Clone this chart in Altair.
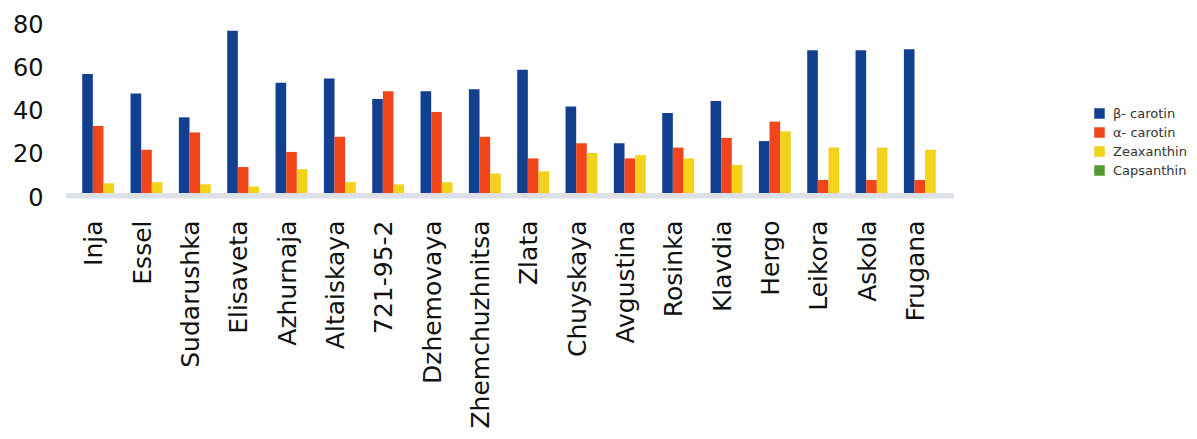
import altair as alt
import pandas as pd

# Carotenoid content by carrot variety
varieties = [
    "Inja", "Essel", "Sudarushka", "Elisaveta", "Azhurnaja", "Altaiskaya",
    "721-95-2", "Dzhemovaya", "Zhemchuzhnitsa", "Zlata", "Chuyskaya",
    "Avgustina", "Rosinka", "Klavdia", "Hergo", "Leikora", "Askola", "Frugana",
]
beta_carotin = [55, 46, 35, 75, 51, 53, 43.5, 47, 48, 57, 40, 23, 37, 42.5, 24, 66, 66, 66.5]
alpha_carotin = [31, 20, 28, 12, 19, 26, 47, 37.5, 26, 16, 23, 16, 21, 25.5, 33, 6, 6, 6]
zeaxanthin = [4.5, 5, 4, 3, 11, 5, 4, 5, 9, 10, 18.5, 17.5, 16, 13, 28.5, 21, 21, 20]

pigments = ["β- carotin", "α- carotin", "Zeaxanthin", "Capsanthin"]
pigment_colors = ["#123f90", "#f0461a", "#f3d21c", "#4f9a2c"]
y_ticks = [0, 20, 40, 60, 80]

rows = []
for name, series in zip(pigments[:3], [beta_carotin, alpha_carotin, zeaxanthin]):
    for variety, value in zip(varieties, series):
        rows.append({"variety": variety, "pigment": name, "value": value})
df = pd.DataFrame(rows)

W, H = 870, 173
y_scale = alt.Scale(domain=[0, 80], nice=False)

# light floor strip under the bars
floor = alt.Chart(pd.DataFrame({"k": [0]})).mark_rect(color="#dde0e6").encode(
    x=alt.value(-8),
    x2=alt.value(W + 10),
    y=alt.datum(0, scale=y_scale),
    y2=alt.datum(-2.5),
)

bars = alt.Chart(df).mark_bar().encode(
    x=alt.X(
        "variety:N",
        sort=varieties,
        scale=alt.Scale(paddingInner=0.34, paddingOuter=0.17),
        axis=alt.Axis(
            title=None, labelAngle=-90, labelFontSize=25, labelPadding=27,
            ticks=False, domain=False, labelOffset=-4, labelColor="#111111",
            labelLimit=400,
        ),
    ),
    xOffset=alt.XOffset(
        "pigment:N",
        sort=pigments[:3],
        scale=alt.Scale(domain=pigments[:3], paddingInner=0, paddingOuter=0),
    ),
    y=alt.Y(
        "value:Q",
        scale=y_scale,
        axis=alt.Axis(
            title=None, values=y_ticks, labelFontSize=24, ticks=False,
            domain=False, grid=False, labelPadding=31, labelOffset=5,
            labelColor="#111111",
        ),
    ),
    color=alt.Color(
        "pigment:N",
        scale=alt.Scale(domain=pigments, range=pigment_colors),
        legend=alt.Legend(
            title=None, orient="none", legendX=1019, legendY=87,
            symbolType="square", symbolSize=110, symbolStrokeWidth=0,
            labelFontSize=13, rowPadding=5, padding=0, labelOffset=7,
            labelColor="#333333",
        ),
    ),
)

chart = (
    alt.layer(floor, bars)
    .properties(
        width=W,
        height=H,
        padding={"left": 12, "top": 13, "right": 5, "bottom": 2},
        background="white",
    )
    .configure(font="DejaVu Sans")
    .configure_view(stroke="transparent", strokeWidth=0)
)

chart.save("out.html", embed_options={"renderer": "svg", "actions": False})
